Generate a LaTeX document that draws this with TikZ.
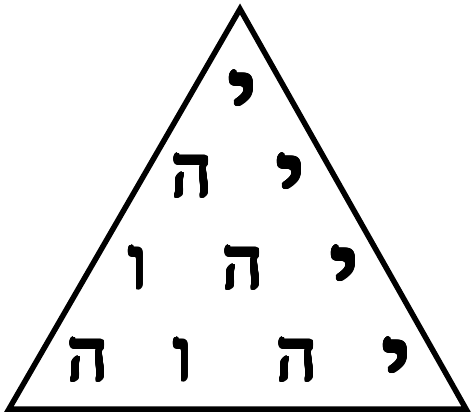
\documentclass[tikz,border=0pt]{standalone}
\usepackage{fontspec}
\usepackage{contour}
\contourlength{1.8pt}
\contournumber{24}
\newfontfamily\heb[Script=Hebrew]{Liberation Serif}
\newdimen\yodT \newdimen\yodB \newdimen\yodW \newdimen\heT
\begin{document}%
{\heb\fontsize{80}{80}\selectfont
\global\yodT=\XeTeXglyphbounds2 \XeTeXcharglyph"05D9\relax
\global\yodB=\XeTeXglyphbounds4 \XeTeXcharglyph"05D9\relax
\setbox0\hbox{י}%
\global\yodW=\wd0
\global\advance\yodW by -\XeTeXglyphbounds1 \XeTeXcharglyph"05D9\relax
\global\advance\yodW by -\XeTeXglyphbounds3 \XeTeXcharglyph"05D9\relax
\global\heT=\XeTeXglyphbounds2 \XeTeXcharglyph"05D4\relax
}%
\ifdim\yodB<0pt \yodB=-\yodB\fi
\pgfmathsetmacro\yodsy{33/(\the\yodT-\the\yodB)}%
\pgfmathsetmacro\yodsx{21/\the\yodW}%
\pgfmathsetmacro\yodlow{\yodsy*\the\yodB}%
\pgfmathsetmacro\hesc{41/\the\heT}%
\def\YOD{\contour{black}{\raisebox{-\yodlow pt}{\scalebox{\yodsx}[\yodsy]{י}}}}%
\def\HE{\contour{black}{\scalebox{\hesc}{ה}}}%
\def\VAV{\contour{black}{\scalebox{\hesc}{ו}}}%
\begin{tikzpicture}[x=1pt,y=-1pt,
  letter/.style={anchor=base,inner sep=0pt,font=\heb\fontsize{80}{80}\selectfont}]
\useasboundingbox (0,0) rectangle (472,417);
\coordinate (apex) at (240,9);
\coordinate (bl) at (9,409);
\coordinate (br) at (466,409);
\draw[line width=5.5pt,line join=miter] (apex) -- (bl) -- (br) -- cycle;
% row 1 (top 70)
\node[letter] (r1a) at (243,104.8) {\YOD};
% row 2 (top 153)
\node[letter] (r2a) at (192,195.8) {\HE};
\node[letter] (r2b) at (291,187.8) {\YOD};
% row 3 (top 245)
\node[letter] (r3a) at (138,287.8) {\VAV};
\node[letter] (r3b) at (243,287.8) {\HE};
\node[letter] (r3c) at (345,279.8) {\YOD};
% row 4 (top 337)
\node[letter] (r4a) at (88,379.8) {\HE};
\node[letter] (r4b) at (183,379.8) {\VAV};
\node[letter] (r4c) at (297,379.8) {\HE};
\node[letter] (r4d) at (397,371.8) {\YOD};
\end{tikzpicture}
\end{document}
